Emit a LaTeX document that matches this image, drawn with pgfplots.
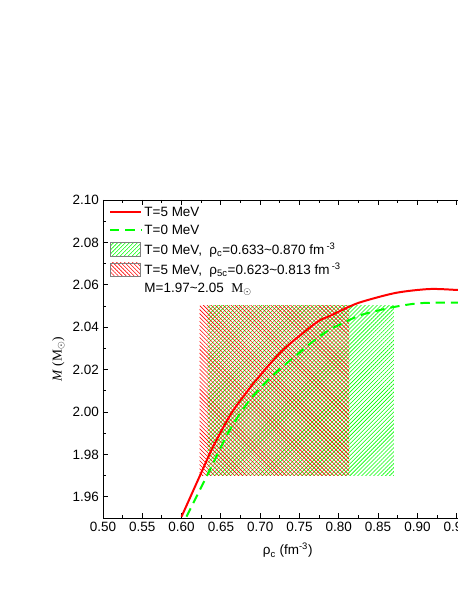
\documentclass[border=0pt]{standalone}
\usepackage{fontspec}
\setmainfont{Liberation Sans}
\newfontfamily\timesf{Liberation Serif}
\usepackage{pgfplots}
\pgfplotsset{compat=1.18}
\usetikzlibrary{patterns.meta}

\pgfplotsset{
  linekey/.style={legend image code/.code={\draw[##1] (0cm,0cm) -- (0.93cm,0cm);}},
  areakey/.style 2 args={legend image code/.code={%
    \begin{scope}
    \clip (0.02cm,-0.2cm) rectangle (0.9cm,0.2cm);
    \fill[white] (0.02cm,-0.2cm) rectangle (0.9cm,0.2cm);
    \path[pattern color=#1,
      pattern={Lines[angle=#2, distance=2.4pt, line width=0.5pt]}]
      (-0.1cm,-0.3cm) rectangle (1cm,0.3cm);
    \end{scope}
    \draw[gray, line width=0.6pt] (0.02cm,-0.2cm) rectangle (0.9cm,0.2cm);}},
}

\begin{document}
\begin{tikzpicture}[font=\fontsize{11.5}{13.8}\selectfont]
\useasboundingbox (-3.09,-2.19) rectangle (10.62,15.54);
\begin{axis}[
  at={(0,0)}, anchor=south west,
  scale only axis, width=11.79cm, height=9.54cm,
  xmin=0.5, xmax=1.0, ymin=1.95, ymax=2.10,
  xtick={0.50,0.55,0.60,0.65,0.70,0.75,0.80,0.85,0.90,0.95,1.00},
  ytick={1.96,1.98,2.00,2.02,2.04,2.06,2.08,2.10},
  minor x tick num=1, minor y tick num=1,
  tick align=inside,
  major tick length=4.5pt, minor tick length=2.5pt,
  axis line style={line width=0.8pt},
  every tick/.style={black, line width=0.8pt},
  /pgf/number format/assume math mode=true,
  xticklabel style={/pgf/number format/.cd, fixed, fixed zerofill, precision=2},
  yticklabel style={/pgf/number format/.cd, fixed, fixed zerofill, precision=2},
  xlabel={ρ\textsubscript{c} (fm\textsuperscript{-3})},
  xlabel style={at={(axis description cs:0.47,0)}, anchor=north, yshift=-18pt},
  ylabel={{\timesf\itshape M} {\timesf (M$_{\odot}$)}},
  legend style={draw=none, fill=none, at={(0.012,0.99)}, anchor=north west,
    font=\fontsize{11.5}{13.8}\selectfont, row sep=1.8pt, inner sep=1pt},
  legend cell align=left,
]
% hatched regions
\addplot[draw=none, forget plot, pattern color=green,
  pattern={Lines[angle=45, distance=2.4pt, line width=0.5pt]}]
  coordinates {(0.633,1.97) (0.870,1.97) (0.870,2.05) (0.633,2.05)} -- cycle;
\addplot[draw=none, forget plot, pattern color=red,
  pattern={Lines[angle=-45, distance=2.4pt, line width=0.5pt]}]
  coordinates {(0.623,1.97) (0.813,1.97) (0.813,2.05) (0.623,2.05)} -- cycle;

% T=0 MeV
\addplot[green, line width=1.7pt, dash pattern=on 8pt off 5pt, smooth, tension=0.5, forget plot]
  coordinates {(0.6062,1.9506) (0.6358,1.9726) (0.6612,1.9915) (0.6844,2.0045)
    (0.7098,2.0151) (0.7288,2.0214) (0.7669,2.0332) (0.788,2.0387) (0.8135,2.0434)
    (0.8303,2.0460) (0.8684,2.0494) (0.9023,2.0513) (0.9404,2.0516) (0.96,2.0516)};
% T=5 MeV
\addplot[red, line width=1.7pt, smooth, tension=0.5, forget plot]
  coordinates {(0.5999,1.9506) (0.6265,1.9726) (0.640,1.9836) (0.6633,1.9994)
    (0.6866,2.0112) (0.6958,2.0155) (0.7288,2.0292) (0.7712,2.0421) (0.788,2.0452)
    (0.8135,2.0497) (0.8303,2.0521) (0.8727,2.0562) (0.915,2.0580) (0.949,2.0576)
    (0.96,2.0574)};

\addlegendimage{linekey, red, line width=1.7pt}
\addlegendentry{T=5 MeV}
\addlegendimage{linekey, green, line width=1.7pt, dash pattern=on 8pt off 5pt}
\addlegendentry{T=0 MeV}
\addlegendimage{areakey={green}{45}}
\addlegendentry{T=0 MeV,\ \ ρ\textsubscript{c}=0.633\textasciitilde 0.870 fm\,\textsuperscript{-3}}
\addlegendimage{areakey={red}{-45}}
\addlegendentry{T=5 MeV,\ \ ρ\textsubscript{5c}=0.623\textasciitilde 0.813 fm\,\textsuperscript{-3}}
\addlegendimage{empty legend}
\addlegendentry{M=1.97\textasciitilde 2.05\ \ {\timesf M}$_{\odot}$}
\end{axis}
\end{tikzpicture}
\end{document}
